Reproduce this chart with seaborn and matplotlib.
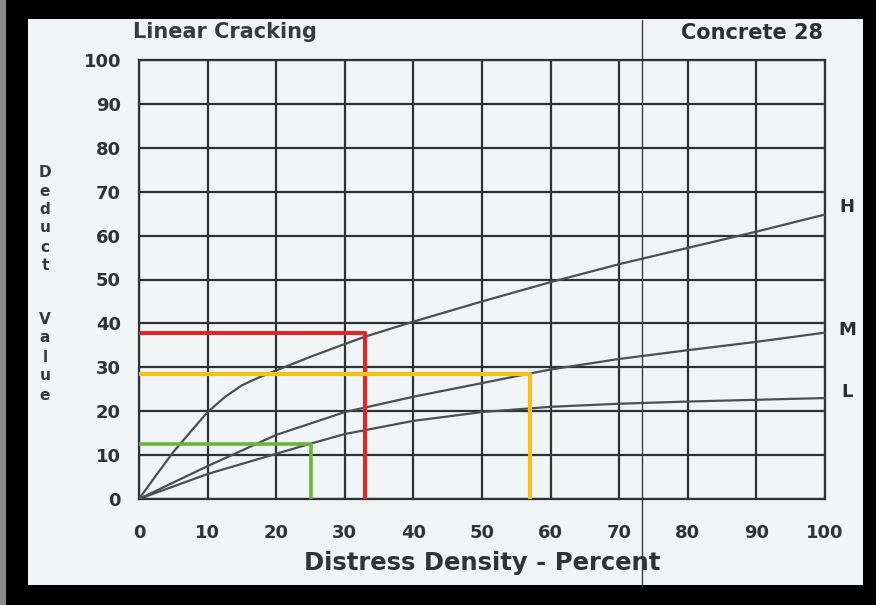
import matplotlib
matplotlib.use("Agg")
import matplotlib.pyplot as plt
from matplotlib.patches import Rectangle
import seaborn as sns
import pandas as pd

# ---- data ----
h_density = [0, 2.5, 5, 7.5, 10, 12.5, 15, 17.5, 20, 25, 30, 33, 40, 50, 60, 70, 80, 90, 100]
h_deduct = [0, 5.4, 10.7, 15.3, 19.8, 23.2, 25.9, 27.7, 29.3, 32.4, 35.3, 37.0, 40.4, 45.0, 49.4, 53.5, 57.2, 60.9, 64.8]

m_density = [0, 10, 20, 30, 40, 50, 57, 60, 70, 80, 90, 100]
m_deduct = [0, 7.5, 14.6, 19.8, 23.3, 26.4, 28.6, 29.5, 31.9, 33.9, 35.8, 37.9]

l_density = [0, 10, 20, 25, 30, 40, 50, 60, 70, 80, 90, 100]
l_deduct = [0, 5.7, 10.3, 12.6, 14.8, 17.8, 19.8, 21.0, 21.7, 22.2, 22.6, 23.0]

severity_labels = ["H", "M", "L"]

# guide lines (density -> deduct value read-outs)
red_x, red_y = [0, 33, 33], [37.8, 37.8, 0]
yellow_x, yellow_y = [0, 57, 57], [28.4, 28.4, 0]
green_x, green_y = [0, 25, 25], [12.5, 12.5, 0]

x_ticks = list(range(0, 101, 10))
y_ticks = list(range(0, 101, 10))

title_left = "Linear Cracking"
title_right = "Concrete 28"
x_label = "Distress Density - Percent"
y_label = "Deduct Value"

# ---- build frame ----
curves = pd.concat([
    pd.DataFrame({"density": h_density, "deduct": h_deduct, "sev": "H"}),
    pd.DataFrame({"density": m_density, "deduct": m_deduct, "sev": "M"}),
    pd.DataFrame({"density": l_density, "deduct": l_deduct, "sev": "L"}),
], ignore_index=True)

sns.set_theme(style="white")
plt.rcParams["font.family"] = ["DejaVu Sans"]

W, H = 876, 605
fig = plt.figure(figsize=(W / 100, H / 100), dpi=100)
fig.patch.set_facecolor("black")

paper = "#f1f4f5"
fig.patches.append(Rectangle((28 / W, 1 - 585 / H), (863 - 28) / W, (585 - 19) / H,
                             transform=fig.transFigure, facecolor=paper, edgecolor="none", zorder=-2))
fig.patches.append(Rectangle((0, 0), 6 / W, 1, transform=fig.transFigure,
                             facecolor="#8a8a8a", edgecolor="none", zorder=-2))

ax = fig.add_axes([139 / W, 1 - 499 / H, (825 - 139) / W, (499 - 60) / H])
ax.set_facecolor(paper)

ink = "#2c3235"
curve_col = "#4a4f52"

sns.lineplot(data=curves, x="density", y="deduct", hue="sev",
             palette={"H": curve_col, "M": curve_col, "L": curve_col},
             estimator=None, sort=False, legend=False, linewidth=1.6, ax=ax, zorder=4)

for gx, gy, col, lw in [(red_x, red_y, "#d42b2b", 3.0),
                        (yellow_x, yellow_y, "#f3c11c", 3.0),
                        (green_x, green_y, "#6cb33e", 2.6)]:
    sns.lineplot(x=gx, y=gy, sort=False, estimator=None, color=col, linewidth=lw, ax=ax, zorder=5)

ax.set_xlim(0, 100)
ax.set_ylim(0, 100)
ax.set_xticks(x_ticks)
ax.set_yticks(y_ticks)
ax.grid(True, color=ink, linewidth=1.6, zorder=1)
ax.set_axisbelow(True)
for s in ax.spines.values():
    s.set_color(ink)
    s.set_linewidth(1.6)
    s.set_visible(True)
ax.tick_params(axis="both", which="major", direction="out", length=7, width=1.6, color=ink,
               labelcolor="#2e3336", labelsize=13)
ax.tick_params(axis="x", pad=11)
ax.tick_params(axis="y", pad=6)
for lab in ax.get_xticklabels() + ax.get_yticklabels():
    lab.set_fontweight("bold")
ax.set_xlabel("")
ax.set_ylabel("")

# fold line from the scan
ax.axvline(73.3, ymin=(499 - 585) / 439, ymax=(499 - 20) / 439, color="#3c3c3c",
           linewidth=1.0, clip_on=False, zorder=6)

# titles
fig.text(133 / W, 1 - 32 / H, title_left, ha="left", va="center", fontsize=15,
         fontweight="bold", color="#353b3f")
fig.text(823 / W, 1 - 33 / H, title_right, ha="right", va="center", fontsize=15,
         fontweight="bold", color="#2a2f32")

# x label
ax.text(50, -14.5, x_label, ha="center", va="center", fontsize=17.5, fontweight="bold",
        color="#2e3336", transform=ax.transData, clip_on=False)

# stacked y label
y_positions = [172, 191, 210, 228, 247, 265, None, 320, 338, 357, 376, 395]
for ch, yp in zip(y_label, y_positions):
    if ch == " " or yp is None:
        continue
    fig.text(45 / W, 1 - yp / H, ch, ha="center", va="center", fontsize=11,
             fontweight="bold", color="#34393c")

# severity labels at line ends
for lab, yv in zip(severity_labels, [66.5, 38.6, 24.4]):
    ax.text(103.2, yv, lab, ha="center", va="center", fontsize=13, fontweight="bold",
            color="#2a2f32", clip_on=False)

fig.savefig("out.png", dpi=100, facecolor=fig.get_facecolor())
